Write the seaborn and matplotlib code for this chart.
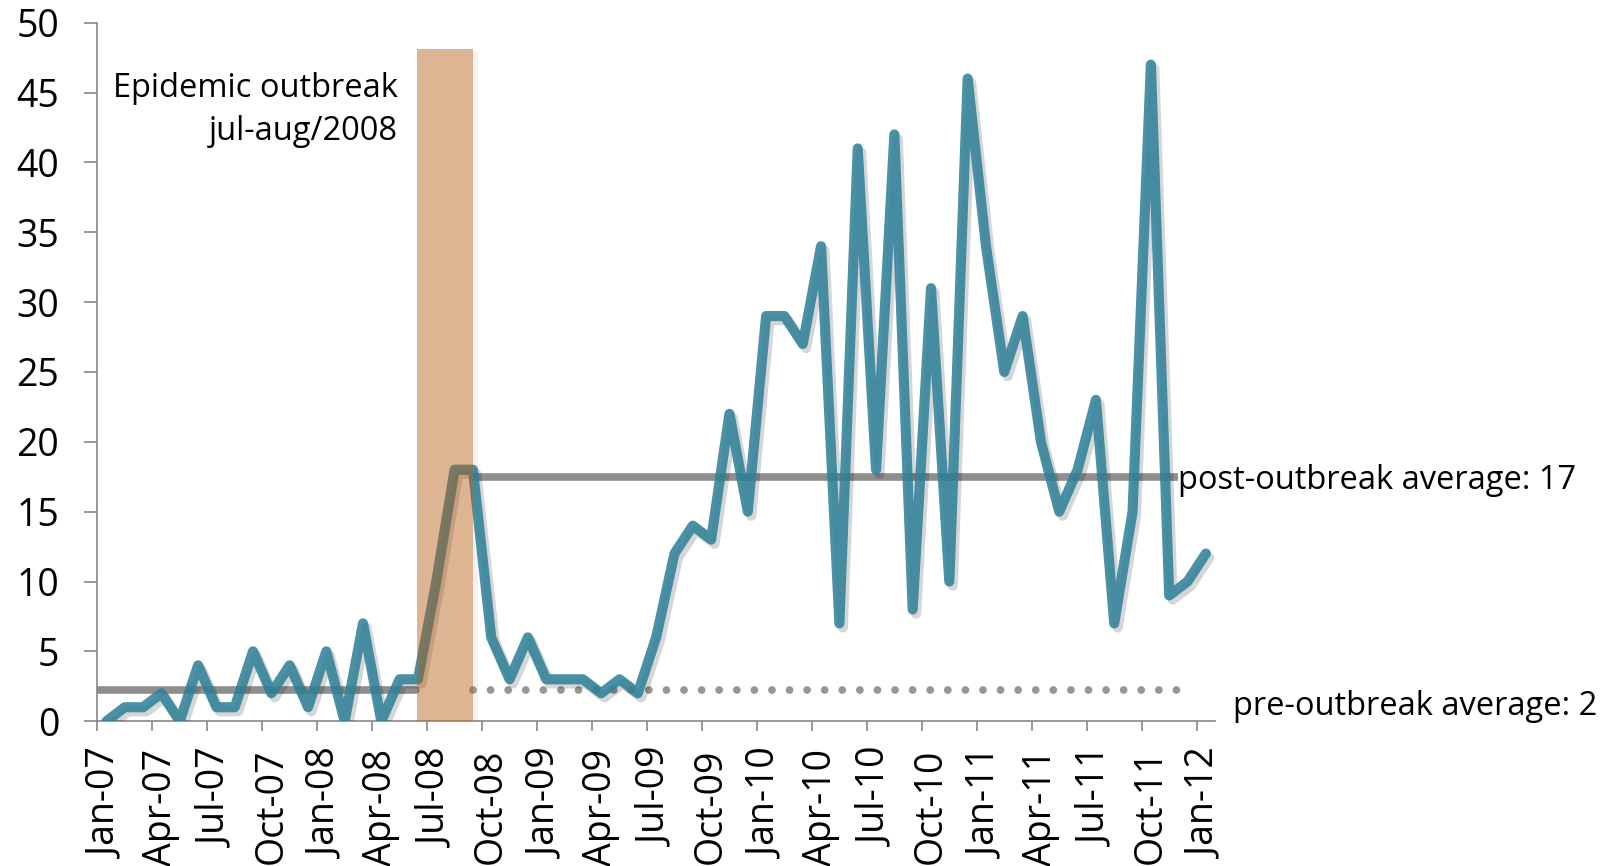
import numpy as np
import pandas as pd
import matplotlib
matplotlib.use("Agg")
import matplotlib.pyplot as plt
import matplotlib.patheffects as pe
import seaborn as sns

# Monthly case counts, Jan-2007 .. Jan-2012
cases = [0, 1, 1, 2, 0, 4, 1, 1, 5, 2, 4, 1,
         5, 0, 7, 0, 3, 3, 10, 18, 18, 6, 3, 6,
         3, 3, 3, 2, 3, 2, 6, 12, 14, 13, 22, 15,
         29, 29, 27, 34, 7, 41, 18, 42, 8, 31, 10, 46,
         34, 25, 29, 20, 15, 18, 23, 7, 15, 47, 9, 10,
         12]
tick_labels = ['Jan-07', 'Apr-07', 'Jul-07', 'Oct-07', 'Jan-08', 'Apr-08',
               'Jul-08', 'Oct-08', 'Jan-09', 'Apr-09', 'Jul-09', 'Oct-09',
               'Jan-10', 'Apr-10', 'Jul-10', 'Oct-10', 'Jan-11', 'Apr-11',
               'Jul-11', 'Oct-11', 'Jan-12']
pre_months = 18          # Jan-07 .. Jun-08
post_start = 21          # Oct-08 onwards
annot_title = ['Epidemic outbreak', 'jul-aug/2008']
pre_label = 'pre-outbreak average: 2'
post_label = 'post-outbreak average: 17'

pre_avg = float(np.mean(cases[:pre_months]))
post_avg = float(np.mean(cases[post_start:]))

sns.set_style('white')
plt.rcParams['font.family'] = ['Open Sans', 'DejaVu Sans']
plt.rcParams['text.color'] = 'black'
plt.rcParams['xtick.labelcolor'] = 'black'
plt.rcParams['ytick.labelcolor'] = 'black'

W, H = 1620, 866
fig = plt.figure(figsize=(W / 100, H / 100), dpi=100)
ax = fig.add_axes([97.3 / W, (H - 721.2) / H, (1215 - 97.3) / W, (721.2 - 22.7) / H])

df = pd.DataFrame({'month': np.arange(len(cases)) + 0.5, 'cases': cases})

teal = '#2F8199'
gray = '#8E8E8E'

# main series
sns.lineplot(data=df, x='month', y='cases', ax=ax, color=teal, alpha=0.87,
             lw=7.3, solid_joinstyle='round', solid_capstyle='round', zorder=3,
             path_effects=[pe.SimpleLineShadow(offset=(2.5, -3), alpha=0.16,
                                               shadow_color='k'), pe.Normal()])

# averages
ax.plot([0, 17.4], [pre_avg, pre_avg], color=gray, lw=5.5,
        solid_capstyle='round', zorder=2)
ax.plot([20.5, 59.4], [pre_avg, pre_avg], color='#969696', lw=5.6,
        linestyle=(0, (0.001, 2.26)), dash_capstyle='round', zorder=2)
ax.plot([20.5, 58.96], [post_avg, post_avg], color=gray, lw=5.5,
        solid_capstyle='butt', zorder=2)

# outbreak band
ax.axvspan(17.45, 20.5, ymin=0, ymax=48.15 / 50, color='#B55B10', alpha=0.45,
           lw=0, zorder=4)
ax.axvspan(20.5, 20.75, ymin=0, ymax=47.9 / 50, color='k', alpha=0.05,
           lw=0, zorder=1)

ax.set_xlim(0, 61)
ax.set_ylim(0, 50)
ax.set_xlabel('')
ax.set_ylabel('')

ax.set_yticks(np.arange(0, 51, 5))
ax.set_xticks(np.arange(0, 61, 3) + 0.5)
ax.set_xticklabels(tick_labels, rotation=90)
ax.set_xticks(np.arange(0, 61, 3), minor=True)

spine_c = '#878787'
for s in ['top', 'right']:
    ax.spines[s].set_visible(False)
for s in ['left', 'bottom']:
    ax.spines[s].set_color(spine_c)
    ax.spines[s].set_linewidth(1.2)

ax.tick_params(axis='y', length=9.4, width=1.2, color=spine_c, direction='out',
               pad=18, labelsize=27, left=True)
ax.tick_params(axis='x', which='major', length=0, pad=20, labelsize=27,
               bottom=True)
ax.tick_params(axis='x', which='minor', length=7.5, width=1.2, color=spine_c,
               direction='out', bottom=True)

ax.text(16.42, 44.7, annot_title[0], ha='right', va='baseline', fontsize=23.5)
ax.text(16.42, 41.6, annot_title[1], ha='right', va='baseline', fontsize=23.5)
ax.text(59.0, 16.6, post_label, ha='left', va='baseline', fontsize=23.5)
ax.text(61.96, 0.44, pre_label, ha='left', va='baseline', fontsize=23.5)

fig.savefig('out.png', dpi=100)
